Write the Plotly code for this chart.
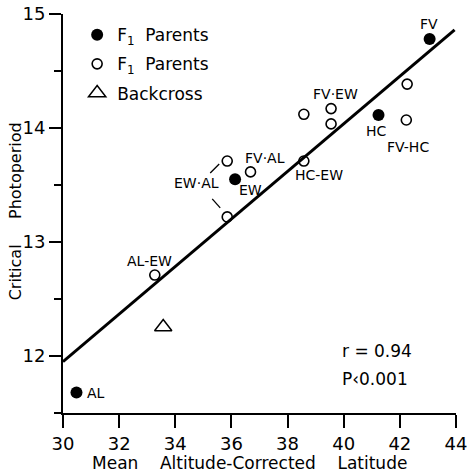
import plotly.graph_objects as go

# ---- data ----
parent_x = [30.48, 36.13, 41.24, 43.06]
parent_y = [11.68, 13.55, 14.115, 14.78]
parent_labels = ["AL", "EW", "HC", "FV"]
parent_shift = [(20, -1), (15, -11), (-2, -16), (-1, 15)]

hybrid_x = [33.27, 35.85, 35.85, 36.68, 38.58, 38.58, 39.55, 39.55, 42.23, 42.26]
hybrid_y = [12.71, 13.22, 13.71, 13.615, 13.71, 14.12, 14.036, 14.17, 14.07, 14.385]
hybrid_labels = ["AL-EW", "", "EW·AL", "FV·AL", "HC-EW", "", "", "FV·EW", "FV-HC", ""]
hybrid_shift = [(-5, 14), (0, 0), (-31, -22), (14, 14), (15, -14), (0, 0), (0, 0), (4, 15), (2, -27), (0, 0)]

backcross_x = [33.57]
backcross_y = [12.255]

fit_x = [30.0, 43.95]
fit_y = [11.95, 14.86]

FONT = "DejaVu Sans"
NB = "\u00a0"

fig = go.Figure()

fig.add_trace(go.Scatter(x=fit_x, y=fit_y, mode="lines",
                         line=dict(color="black", width=3),
                         showlegend=False, hoverinfo="skip"))

fig.add_trace(go.Scatter(x=parent_x, y=parent_y, mode="markers",
                         name="F<sub>1</sub>" + NB * 2 + "Parents", legendgroup="a",
                         marker=dict(symbol="circle", size=12, color="black"),
                         cliponaxis=False))
fig.add_trace(go.Scatter(x=hybrid_x, y=hybrid_y, mode="markers",
                         name="F<sub>1</sub>" + NB * 2 + "Parents", legendgroup="b",
                         marker=dict(symbol="circle-open", size=10, color="black",
                                     line=dict(width=1.6, color="black")),
                         cliponaxis=False))
fig.add_trace(go.Scatter(x=backcross_x, y=backcross_y, mode="markers",
                         name="Backcross", legendgroup="c",
                         marker=dict(symbol="triangle-up-open", size=15, color="black",
                                     line=dict(width=1.5, color="black")),
                         cliponaxis=False))

annotations = []
for xs, ys, labs, shifts in [(parent_x, parent_y, parent_labels, parent_shift),
                             (hybrid_x, hybrid_y, hybrid_labels, hybrid_shift)]:
    for x, y, t, (dx, dy) in zip(xs, ys, labs, shifts):
        if t:
            annotations.append(dict(x=x, y=y, xref="x", yref="y", text=t,
                                    showarrow=False, xshift=dx, yshift=dy,
                                    font=dict(family=FONT, size=14, color="black")))

annotations.append(dict(x=0.705, y=0.155, xref="paper", yref="paper", text="r = 0.94",
                        showarrow=False, xanchor="left", yanchor="middle",
                        font=dict(family=FONT, size=17, color="black")))
annotations.append(dict(x=0.705, y=0.085, xref="paper", yref="paper", text="P‹0.001",
                        showarrow=False, xanchor="left", yanchor="middle",
                        font=dict(family=FONT, size=17, color="black")))
# axis titles, placed like the reference
annotations.append(dict(x=0.068, y=-0.094, xref="paper", yref="paper",
                        text="Mean" + NB * 4 + "Altitude-Corrected" + NB * 4 + "Latitude",
                        showarrow=False, xanchor="left", yanchor="top",
                        font=dict(family=FONT, size=17, color="black")))
annotations.append(dict(x=-0.12, y=0.505, xref="paper", yref="paper",
                        text="Critical" + NB * 5 + "Photoperiod", textangle=-90,
                        showarrow=False, xanchor="center", yanchor="middle",
                        font=dict(family=FONT, size=16, color="black")))

# leader lines for the EW·AL label (pixel offsets from the two points)
shapes = [
    dict(type="line", xref="x", yref="y", xsizemode="pixel", ysizemode="pixel",
         xanchor=hybrid_x[2], yanchor=hybrid_y[2], x0=-8, y0=-3, x1=-17, y1=-12,
         line=dict(color="black", width=1.3)),
    dict(type="line", xref="x", yref="y", xsizemode="pixel", ysizemode="pixel",
         xanchor=hybrid_x[1], yanchor=hybrid_y[1], x0=-7, y0=9, x1=-15, y1=18,
         line=dict(color="black", width=1.3)),
]

fig.update_layout(
    width=467, height=472,
    margin=dict(l=63, r=11, t=14, b=59),
    paper_bgcolor="white", plot_bgcolor="white",
    font=dict(family=FONT, color="black"),
    annotations=annotations, shapes=shapes,
    legend=dict(x=0.036, y=0.992, xanchor="left", yanchor="top",
                font=dict(family=FONT, size=17, color="black"),
                bgcolor="rgba(0,0,0,0)", tracegroupgap=4),
    xaxis=dict(range=[30, 44], tickmode="linear", tick0=30, dtick=2,
               showgrid=False, zeroline=False,
               showline=True, linecolor="black", linewidth=2, automargin=False,
               ticks="outside", ticklen=13, tickwidth=2, tickcolor="black",
               ticklabeloverflow="allow",
               tickfont=dict(family=FONT, size=18, color="black")),
    yaxis=dict(range=[11.5, 15], tickmode="linear", tick0=12, dtick=1,
               showgrid=False, zeroline=False,
               showline=True, linecolor="black", linewidth=2, automargin=False,
               ticks="outside", ticklen=12, tickwidth=2, tickcolor="black",
               tickfont=dict(family=FONT, size=18, color="black"),
               minor=dict(dtick=0.5, ticks="outside", ticklen=7,
                          tickwidth=2, tickcolor="black", showgrid=False)),
)

fig.write_html("out.html",
               config={"displayModeBar": False},
               post_script="document.body.style.margin='0';document.body.style.overflow='hidden';")
